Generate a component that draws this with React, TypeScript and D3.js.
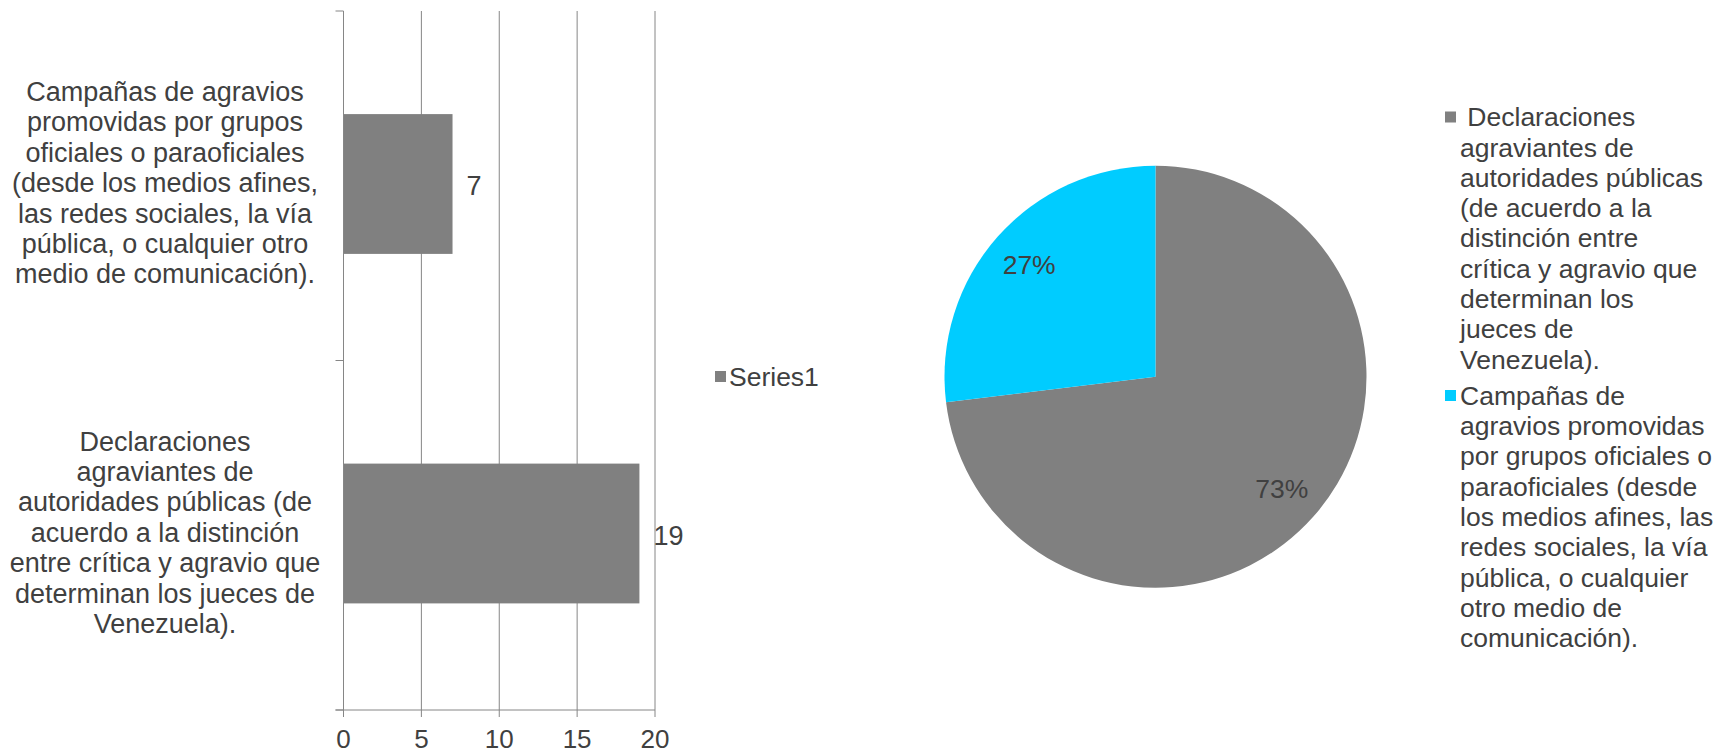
import React from "react";
import * as d3 from "d3";

const categories = [
  "Declaraciones agraviantes de autoridades públicas (de acuerdo a la distinción entre crítica y agravio que determinan los jueces de Venezuela).",
  "Campañas de agravios promovidas por grupos oficiales o paraoficiales (desde los medios afines, las redes sociales, la vía pública, o cualquier otro medio de comunicación).",
];
const values = [19, 7];
const seriesName = "Series1";
const xTicks = [0, 5, 10, 15, 20];
const pieLabels = ["73%", "27%"];

const axisLabelLines = [
  ["Declaraciones", "agraviantes de", "autoridades públicas (de", "acuerdo a la distinción", "entre crítica y agravio que", "determinan los jueces de", "Venezuela)."],
  ["Campañas de agravios", "promovidas por grupos", "oficiales o paraoficiales", "(desde los medios afines,", "las redes sociales, la vía", "pública, o cualquier otro", "medio de comunicación)."],
];
const legendLines = [
  [" Declaraciones", "agraviantes de", "autoridades públicas", "(de acuerdo a la", "distinción entre", "crítica y agravio que", "determinan los", "jueces de", "Venezuela)."],
  ["Campañas de", "agravios promovidas", "por grupos oficiales o", "paraoficiales (desde", "los medios afines, las", "redes sociales, la vía", "pública, o cualquier", "otro medio de", "comunicación)."],
];
const pieColors = ["#808080", "#00CCFF"];

const W = 1732;
const H = 754;
const FONT = "'Liberation Sans', Arial, sans-serif";
const TEXT = "#404040";
const GRID = "#868686";
const FS = 27;
const FSL = 26.5;
const LH = 30.4;

export default function App() {
  const barOrder = [1, 0];
  const x = d3.scaleLinear().domain([0, 20]).range([343.5, 655]);
  const y = d3
    .scaleBand<number>()
    .domain(barOrder)
    .range([11, 710])
    .padding(0);
  const bw = y.bandwidth();
  const plotTop = 11;
  const plotBottom = 710;

  const pieData = d3
    .pie<number>()
    .sort(null)
    .value((d) => d)(values);
  const R = 211;
  const cx = 1155.5;
  const cy = 376.7;
  const arc = d3.arc<d3.PieArcDatum<number>>().innerRadius(0).outerRadius(R);
  const labelArc = d3
    .arc<d3.PieArcDatum<number>>()
    .innerRadius(R * 0.8)
    .outerRadius(R * 0.8);

  const legendStarts = [117, 395.5];

  return (
    <svg
      width={W}
      height={H}
      style={{ position: "absolute", left: 0, top: 0, background: "#fff" }}
      fontFamily={FONT}
    >
      <rect x={0} y={0} width={W} height={H} fill="#fff" />
      {xTicks.slice(1).map((t) => (
        <line key={"g" + t} x1={x(t)} x2={x(t)} y1={plotTop} y2={plotBottom} stroke={GRID} strokeWidth={1} />
      ))}
      {barOrder.map((i) => (
        <rect
          key={"b" + i}
          x={x(0)}
          y={(y(i) as number) + bw * 0.295}
          width={x(values[i]) - x(0)}
          height={bw * 0.4}
          fill="#808080"
        />
      ))}
      <line x1={x(0)} x2={x(0)} y1={plotTop} y2={plotBottom} stroke={GRID} strokeWidth={1} />
      {[plotTop, (y(0) as number), plotBottom].map((yy, k) => (
        <line key={"yt" + k} x1={x(0) - 8} x2={x(0)} y1={yy} y2={yy} stroke={GRID} strokeWidth={1} />
      ))}
      <line x1={x(0) - 8} x2={x(20)} y1={plotBottom} y2={plotBottom} stroke={GRID} strokeWidth={1} />
      {xTicks.map((t) => (
        <g key={"xt" + t}>
          <line x1={x(t)} x2={x(t)} y1={plotBottom} y2={plotBottom + 7} stroke={GRID} strokeWidth={1} />
          <text x={x(t)} y={747.5} fontSize={26} fill={TEXT} textAnchor="middle">
            {t}
          </text>
        </g>
      ))}
      {barOrder.map((i) => (
        <text
          key={"v" + i}
          x={x(values[i]) + 14}
          y={(y(i) as number) + bw / 2}
          dy="0.35em"
          fontSize={FS}
          fill={TEXT}
        >
          {values[i]}
        </text>
      ))}
      {barOrder.map((i) => {
        const lines = axisLabelLines[i];
        const c = (y(i) as number) + bw / 2 - 3;
        const start = c - ((lines.length - 1) * LH) / 2;
        return (
          <text key={"c" + i} fontSize={FS} fill={TEXT} textAnchor="middle">
            {lines.map((ln, k) => (
              <tspan key={k} x={165} y={start + k * LH} dy="0.35em">
                {ln}
              </tspan>
            ))}
          </text>
        );
      })}
      <rect x={715} y={371} width={11} height={11} fill="#808080" />
      <text x={729} y={377} dy="0.35em" fontSize={FSL} fill={TEXT}>
        {seriesName}
      </text>

      <g transform={`translate(${cx},${cy})`}>
        {pieData.map((d, i) => (
          <path key={"p" + i} d={arc(d) as string} fill={pieColors[i]} />
        ))}
        {pieData.map((d, i) => {
          const [lx, ly] = labelArc.centroid(d);
          return (
            <text key={"pl" + i} x={lx} y={ly} dy="0.35em" fontSize={FSL} fill={TEXT} textAnchor="middle">
              {pieLabels[i]}
            </text>
          );
        })}
      </g>

      {legendLines.map((lines, i) => (
        <g key={"lg" + i}>
          <rect x={1445} y={legendStarts[i] - 5.5} width={11} height={11} fill={pieColors[i]} />
          <text fontSize={FSL} fill={TEXT} style={{ whiteSpace: "pre" }}>
            {lines.map((ln, k) => (
              <tspan key={k} x={1460} y={legendStarts[i] + k * 30.3} dy="0.35em">
                {ln}
              </tspan>
            ))}
          </text>
        </g>
      ))}
    </svg>
  );
}
